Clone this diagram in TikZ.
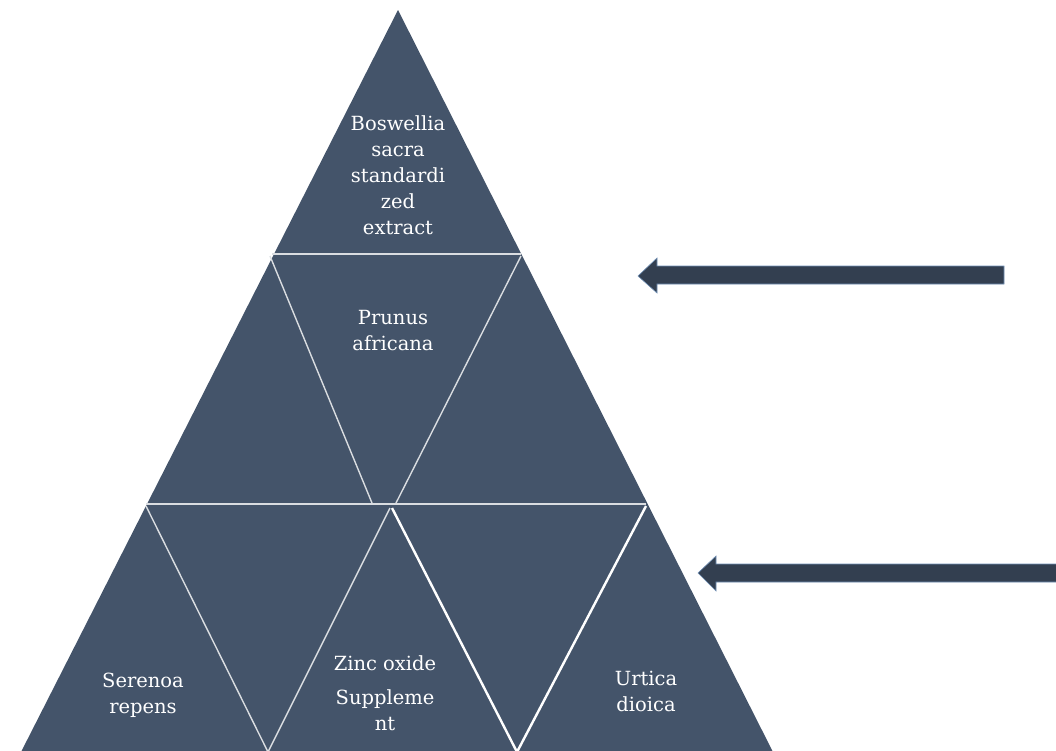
\documentclass[tikz,border=0pt]{standalone}
\usepackage{fontspec}
\setmainfont{DejaVu Serif}
\usetikzlibrary{calc}
\definecolor{slate}{HTML}{44546A}
\definecolor{slatedk}{HTML}{333F50}
\definecolor{rim}{HTML}{6F8FB5}
\tikzset{%
    pyr/.style={fill=slate, draw=none},
    sep/.style={draw=white!80!slate, line width=1.4pt},
    sepw/.style={draw=white, line width=2.4pt},
    lab/.style={text=white, align=center, inner sep=0pt, font=\fontsize{19.5}{26}\selectfont},
    arr/.style={fill=slatedk, draw=rim, line width=0.6pt},
}
\begin{document}
\begin{tikzpicture}[x=1pt,y=-1pt]
    \useasboundingbox (0,0) rectangle (1056,750);
    \clip (0,0) rectangle (1056,750);
    \coordinate (A) at (398,10);
    \coordinate (L3) at (20,754);
    \coordinate (R3) at (774,754);
    \fill [pyr](A)--(R3)--(L3)--cycle;
    % rows
    \draw [sep](272,254)--(521,254) (146,504)--(646,504);
    \draw [sep](270,256)--(372,503) (521,256)--(396,503);
    \draw [sep](146,506)--(268,752)--(390,508);
    \draw [sepw](392,508)--(517,752)--(646,506);
    % labels
    \node [lab] (bos) at (398,175) {Boswellia\\sacra\\standardi\\zed\\extract};
    \node [lab] (pru) at (393,331) {Prunus\\africana};
    \node [lab] (ser) at (143,695) {Serenoa\\repens};
    \node [lab] (zin) at (385,693) {Zinc oxide\\[8pt]Suppleme\\nt};
    \node [lab] (urt) at (646,691) {Urtica\\dioica};
    % arrows
    \draw [arr](1004,266)--(657,266)--(657,258)--(638,276)--(657,293)--(657,284)--(1004,284)--cycle;
    \draw [arr](1060,564)--(716,564)--(716,556)--(698,573)--(716,591)--(716,582)--(1060,582)--cycle;
\end{tikzpicture}
\end{document}
